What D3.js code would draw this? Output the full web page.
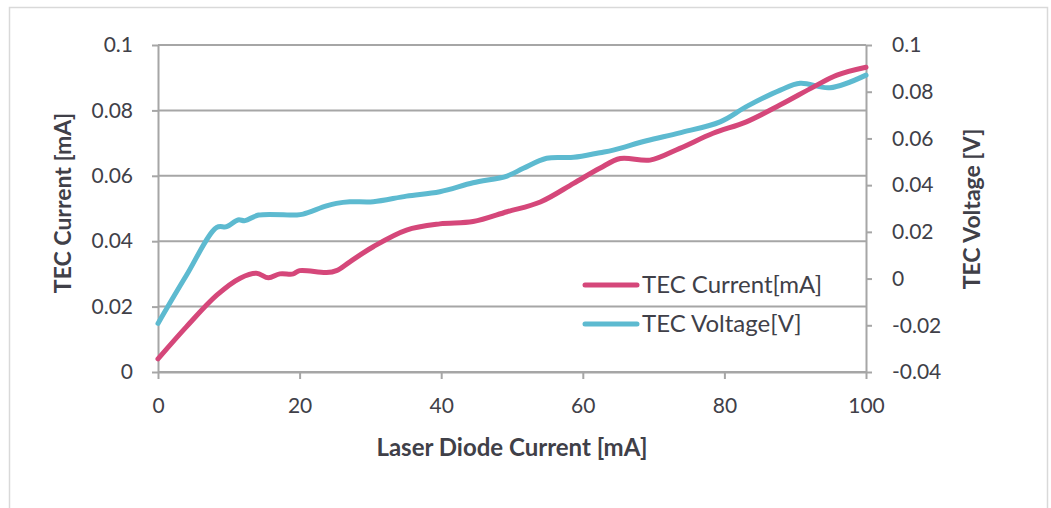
<!DOCTYPE html>
<html>
<head>
<meta charset="utf-8">
<script src="https://cdn.jsdelivr.net/npm/d3@7"></script>
<style>
  body { margin: 0; background: #fff; }
  svg text { font-family: Lato, "Open Sans", sans-serif; fill: #404048; }
</style>
</head>
<body>
<svg id="chart" width="1051" height="508"></svg>
<script>
// laser diode current [mA]
const currentX = [0, 4, 8.3, 11.6, 13.9, 15.6, 17.2, 19.1, 20, 23.8, 25.2, 27.1, 30.4, 35.1, 39.8, 44.5, 49.3, 54, 58.7, 62.4, 65.3, 69.5, 73.7, 78.4, 83.1, 87.9, 92.6, 95.9, 100];
const currentY = [0.004, 0.0138, 0.0235, 0.0287, 0.0302, 0.0288, 0.030, 0.030, 0.031, 0.0304, 0.031, 0.0337, 0.0383, 0.0434, 0.0453, 0.046, 0.049, 0.052, 0.0577, 0.0623, 0.0653, 0.0648, 0.0684, 0.073, 0.0765, 0.0817, 0.0872, 0.0908, 0.0932];

const voltageX = [0, 4, 8.3, 9.7, 11.3, 12.3, 14.2, 19.6, 20.5, 23.8, 25.2, 27.1, 30.4, 35.1, 39.8, 44.5, 49.3, 51.6, 54.9, 58.7, 62.4, 64.3, 69, 73.7, 79.4, 83.1, 87.9, 90.7, 94.9, 100];
const voltageY = [-0.0192, 0.0013, 0.0219, 0.0222, 0.0251, 0.0248, 0.0272, 0.0272, 0.0276, 0.0311, 0.0322, 0.0329, 0.0329, 0.0353, 0.0372, 0.041, 0.0439, 0.0472, 0.0515, 0.0519, 0.0539, 0.055, 0.059, 0.0624, 0.0671, 0.0736, 0.0807, 0.0836, 0.0817, 0.0871];

const xTicks = [0, 20, 40, 60, 80, 100];
const leftTicks = [0, 0.02, 0.04, 0.06, 0.08, 0.1];
const rightTicks = [-0.04, -0.02, 0, 0.02, 0.04, 0.06, 0.08, 0.1];

const seriesNames = ["TEC Current[mA]", "TEC Voltage[V]"];
const colors = ["#d5477a", "#5dbad0"];

const svg = d3.select("#chart");
const plotLeft = 158, plotRight = 866, plotTop = 45, plotBottom = 372;

// outer frame
svg.append("rect")
    .attr("x", 9.5).attr("y", 7.5)
    .attr("width", 1038).attr("height", 520)
    .attr("fill", "#fff")
    .attr("stroke", "#d9d9d9")
    .attr("stroke-width", 1.5);

const x = d3.scaleLinear().domain([0, 100]).range([plotLeft, plotRight]);
const yL = d3.scaleLinear().domain([0, 0.1]).range([plotBottom, plotTop]);
const yR = d3.scaleLinear().domain([-0.04, 0.1]).range([plotBottom, plotTop]);

// gridlines
svg.append("g")
    .selectAll("line")
    .data(leftTicks)
    .enter()
    .append("line")
    .attr("x1", plotLeft).attr("x2", plotRight)
    .attr("y1", d => yL(d)).attr("y2", d => yL(d))
    .attr("stroke", "#a6a6a6")
    .attr("stroke-width", 2);

function styleAxis(g) {
    g.selectAll(".domain").attr("stroke", "#a6a6a6").attr("stroke-width", 2);
    g.selectAll(".tick line").attr("stroke", "#a6a6a6").attr("stroke-width", 2);
    g.selectAll(".tick text").style("font-size", "21px").attr("fill", "#404048");
}

svg.append("g")
    .attr("transform", `translate(0,${plotBottom})`)
    .call(d3.axisBottom(x).tickValues(xTicks).tickSize(7).tickSizeOuter(0).tickPadding(19))
    .call(styleAxis);

svg.append("g")
    .attr("transform", `translate(${plotLeft},0)`)
    .call(d3.axisLeft(yL).tickValues(leftTicks).tickFormat(d => d3.format("~g")(d)).tickSize(6).tickSizeOuter(0).tickPadding(19))
    .call(styleAxis);

svg.append("g")
    .attr("transform", `translate(${plotRight},0)`)
    .call(d3.axisRight(yR).tickValues(rightTicks).tickFormat(d => d3.format("~g")(d).replace("−", "-")).tickSize(6).tickSizeOuter(0).tickPadding(20))
    .call(styleAxis);

// lines
const lineL = d3.line().x(d => x(d[0])).y(d => yL(d[1])).curve(d3.curveCatmullRom.alpha(0.5));
const lineR = d3.line().x(d => x(d[0])).y(d => yR(d[1])).curve(d3.curveCatmullRom.alpha(0.5));

svg.append("path")
    .datum(voltageX.map((v, i) => [v, voltageY[i]]))
    .attr("d", lineR)
    .attr("fill", "none")
    .attr("stroke", colors[1])
    .attr("stroke-width", 5)
    .attr("stroke-linecap", "round");

svg.append("path")
    .datum(currentX.map((v, i) => [v, currentY[i]]))
    .attr("d", lineL)
    .attr("fill", "none")
    .attr("stroke", colors[0])
    .attr("stroke-width", 5)
    .attr("stroke-linecap", "round");

// axis titles
svg.append("text")
    .attr("transform", "translate(71,203) rotate(-90)")
    .attr("text-anchor", "middle")
    .style("font-size", "23px").style("font-weight", "bold")
    .text("TEC Current [mA]");

svg.append("text")
    .attr("transform", "translate(980,209) rotate(-90)")
    .attr("text-anchor", "middle")
    .style("font-size", "23px").style("font-weight", "bold")
    .text("TEC Voltage [V]");

svg.append("text")
    .attr("x", 512).attr("y", 456)
    .attr("text-anchor", "middle")
    .style("font-size", "24px").style("font-weight", "bold")
    .text("Laser Diode Current [mA]");

// legend
const legend = svg.append("g")
    .selectAll("g")
    .data(seriesNames)
    .enter()
    .append("g")
    .attr("transform", (d, i) => `translate(583,${285 + i * 39})`);

legend.append("line")
    .attr("x1", 2).attr("x2", 54)
    .attr("stroke", (d, i) => colors[i])
    .attr("stroke-width", 5)
    .attr("stroke-linecap", "round");

legend.append("text")
    .attr("x", 59).attr("dy", "0.35em")
    .style("font-size", "24px")
    .text(d => d);
</script>
</body>
</html>
